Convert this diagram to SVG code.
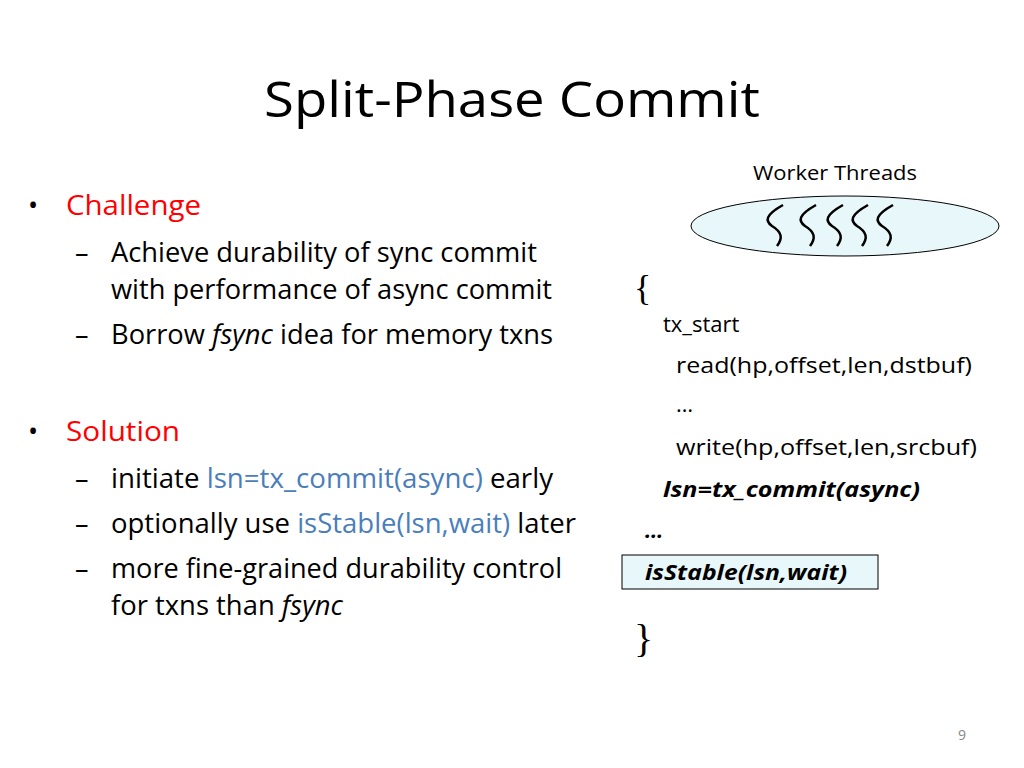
<svg xmlns="http://www.w3.org/2000/svg" width="1024" height="768" viewBox="0 0 1024 768">
<style>
text{font-family:"Open Sans","Liberation Sans",sans-serif;fill:#000}
.b{font-size:27px}
.r{fill:#ff0000}
.bl{fill:#4a7ebb}
.c{font-size:22px}
.bi{font-weight:bold;font-style:italic}
.sq{fill:none;stroke:#000;stroke-width:2.5}
</style>
<rect width="1024" height="768" fill="#fff"/>
<text x="512" y="117" font-size="50" text-anchor="middle" textLength="496" lengthAdjust="spacingAndGlyphs">Split-Phase Commit</text>
<g id="left">
<text x="28" y="215" class="b">•</text>
<text x="66" y="215" class="b r" textLength="135" lengthAdjust="spacingAndGlyphs">Challenge</text>
<text x="75" y="262" class="b">–</text>
<text x="111" y="262" class="b" textLength="426" lengthAdjust="spacingAndGlyphs">Achieve durability of sync commit</text>
<text x="111" y="299" class="b" textLength="441" lengthAdjust="spacingAndGlyphs">with performance of async commit</text>
<text x="75" y="344" class="b">–</text>
<text x="111" y="344" class="b" textLength="442" lengthAdjust="spacingAndGlyphs">Borrow <tspan font-style="italic">fsync</tspan> idea for memory txns</text>
<text x="28" y="441" class="b">•</text>
<text x="66" y="441" class="b r" textLength="114" lengthAdjust="spacingAndGlyphs">Solution</text>
<text x="75" y="488" class="b">–</text>
<text x="111" y="488" class="b" textLength="442" lengthAdjust="spacingAndGlyphs">initiate <tspan class="bl">lsn=tx_commit(async)</tspan> early</text>
<text x="75" y="533" class="b">–</text>
<text x="111" y="533" class="b" textLength="465" lengthAdjust="spacingAndGlyphs">optionally use <tspan class="bl">isStable(lsn,wait)</tspan> later</text>
<text x="75" y="578" class="b">–</text>
<text x="111" y="578" class="b" textLength="451" lengthAdjust="spacingAndGlyphs">more fine-grained durability control</text>
<text x="111" y="615" class="b" textLength="232" lengthAdjust="spacingAndGlyphs">for txns than <tspan font-style="italic">fsync</tspan></text>
</g>
<g id="threads">
<text x="753" y="180" font-size="20" textLength="164" lengthAdjust="spacingAndGlyphs">Worker Threads</text>
<ellipse cx="845" cy="226" rx="154" ry="30" fill="#e8f8fa" stroke="#000" stroke-width="1"/>
<path class="sq" d="M783,205 C765,215 765,221 772,226 C782,232 783,238 777,246"/>
<path class="sq" d="M816,205 C798,215 798,221 805,226 C815,232 816,238 810,246"/>
<path class="sq" d="M843,205 C825,215 825,221 832,226 C842,232 843,238 837,246"/>
<path class="sq" d="M868,205 C850,215 850,221 857,226 C867,232 868,238 862,246"/>
<path class="sq" d="M893,205 C875,215 875,221 882,226 C892,232 893,238 887,246"/>
</g>
<g id="code">
<text x="634" y="300" font-size="36" font-family="Liberation Serif,serif" style="font-family:'Liberation Serif',serif">{</text>
<text x="663" y="332" class="c">tx_start</text>
<text x="676" y="373" class="c" textLength="296" lengthAdjust="spacingAndGlyphs">read(hp,offset,len,dstbuf)</text>
<text x="676" y="412" class="c">…</text>
<text x="676" y="455" class="c" textLength="301" lengthAdjust="spacingAndGlyphs">write(hp,offset,len,srcbuf)</text>
<text x="663" y="497" class="c bi" textLength="257" lengthAdjust="spacingAndGlyphs">lsn=tx_commit(async)</text>
<text x="645" y="538" class="c bi">…</text>
<rect x="622" y="555" width="256" height="34" fill="#e8f8fa" stroke="#000" stroke-width="1"/>
<text x="645" y="580" class="c bi" textLength="202" lengthAdjust="spacingAndGlyphs">isStable(lsn,wait)</text>
<text x="634" y="652" font-size="40" style="font-family:'Liberation Serif',serif">}</text>
</g>
<text x="958" y="740" font-size="14" fill="#888" style="fill:#888">9</text>
</svg>
